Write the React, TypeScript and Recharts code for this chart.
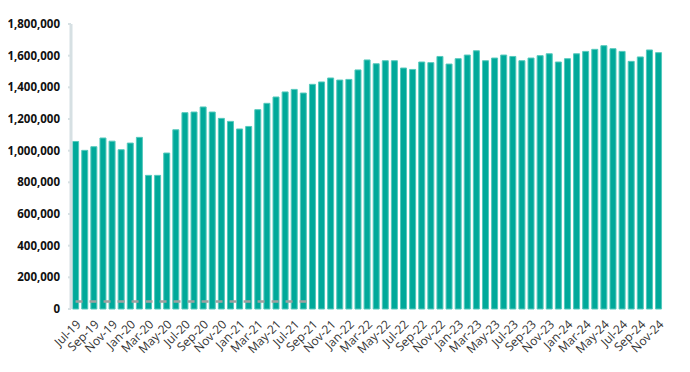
import React from 'react';
import { ComposedChart, Bar, Line, XAxis, YAxis } from 'recharts';

const months = [
  'Jul-19', 'Aug-19', 'Sep-19', 'Oct-19', 'Nov-19', 'Dec-19',
  'Jan-20', 'Feb-20', 'Mar-20', 'Apr-20', 'May-20', 'Jun-20', 'Jul-20', 'Aug-20', 'Sep-20', 'Oct-20', 'Nov-20', 'Dec-20',
  'Jan-21', 'Feb-21', 'Mar-21', 'Apr-21', 'May-21', 'Jun-21', 'Jul-21', 'Aug-21', 'Sep-21', 'Oct-21', 'Nov-21', 'Dec-21',
  'Jan-22', 'Feb-22', 'Mar-22', 'Apr-22', 'May-22', 'Jun-22', 'Jul-22', 'Aug-22', 'Sep-22', 'Oct-22', 'Nov-22', 'Dec-22',
  'Jan-23', 'Feb-23', 'Mar-23', 'Apr-23', 'May-23', 'Jun-23', 'Jul-23', 'Aug-23', 'Sep-23', 'Oct-23', 'Nov-23', 'Dec-23',
  'Jan-24', 'Feb-24', 'Mar-24', 'Apr-24', 'May-24', 'Jun-24', 'Jul-24', 'Aug-24', 'Sep-24', 'Oct-24', 'Nov-24',
];

const totals = [
  1058000, 1002000, 1025000, 1080000, 1060000, 1006000,
  1048000, 1084000, 844000, 844000, 985000, 1132000, 1240000, 1244000, 1276000, 1244000, 1204000, 1185000,
  1137000, 1153000, 1259000, 1299000, 1339000, 1371000, 1387000, 1364000, 1419000, 1434000, 1459000, 1446000,
  1450000, 1510000, 1573000, 1549000, 1568000, 1568000, 1522000, 1513000, 1560000, 1556000, 1595000, 1547000,
  1581000, 1604000, 1631000, 1568000, 1585000, 1604000, 1595000, 1568000, 1585000, 1600000, 1612000, 1560000,
  1581000, 1612000, 1627000, 1640000, 1663000, 1644000, 1627000, 1564000, 1592000, 1636000, 1619000,
];

// gray dashed marker, only drawn for the first 27 months
const baseline = [
  48000, 48000, 48000, 48000, 48000, 48000, 48000, 48000, 48000,
  48000, 48000, 48000, 48000, 48000, 48000, 48000, 48000, 48000,
  48000, 48000, 48000, 48000, 48000, 48000, 48000, 48000, 48000,
];

const yTicks = [0, 200000, 400000, 600000, 800000, 1000000, 1200000, 1400000, 1600000, 1800000];

const data = months.map((m, i) => ({
  month: m,
  total: totals[i],
  base: i < baseline.length ? baseline[i] : null,
}));

const fmt = (v: number) => v.toLocaleString('en-US');

export default function App() {
  return (
    <div style={{ width: 674, height: 356, fontFamily: '"Open Sans", sans-serif' }}>
      <ComposedChart
        width={674}
        height={356}
        data={data}
        margin={{ top: 16, right: 19, left: 0, bottom: 0 }}
        barCategoryGap="18%"
      >
        <XAxis
          dataKey="month"
          interval={1}
          angle={-45}
          textAnchor="end"
          height={55}
          axisLine={false}
          tickLine={false}
          tick={{ fontSize: 12, fill: '#333' }}
          tickMargin={4}
        />
        <YAxis
          width={63}
          domain={[0, 1800000]}
          ticks={yTicks}
          tickFormatter={fmt}
          axisLine={{ stroke: '#d6e0e3', strokeWidth: 3 }}
          tickLine={{ stroke: '#d6e0e3', strokeWidth: 2 }}
          tickSize={3}
          tickMargin={8}
          tick={{ fontSize: 11.5, fontWeight: 700, fill: '#111' }}
        />
        <Bar dataKey="total" fill="#00a99a" stroke="#55c9bc" strokeWidth={1} isAnimationActive={false} />
        <Line
          dataKey="base"
          stroke="#a0a0a0"
          strokeWidth={2.5}
          strokeDasharray="7 7"
          dot={false}
          activeDot={false}
          connectNulls={false}
          isAnimationActive={false}
        />
      </ComposedChart>
    </div>
  );
}
